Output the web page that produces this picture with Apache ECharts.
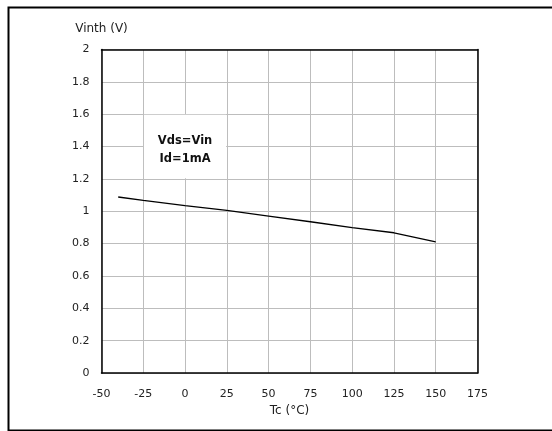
<!DOCTYPE html>
<html>
<head>
<meta charset="utf-8">
<script src="https://cdn.jsdelivr.net/npm/echarts@6/dist/echarts.min.js"></script>
<style>
html,body{margin:0;padding:0;background:#fff;}
#c{width:552px;height:431px;}
</style>
</head>
<body>
<div id="c"></div>
<script>
// Data
var tempC = [-40, -25, 0, 25, 50, 75, 100, 125, 150];
var vinth = [1.088, 1.067, 1.035, 1.005, 0.97, 0.935, 0.899, 0.867, 0.81];
var xTicks = { min: -50, max: 175, step: 25 };
var yTicks = { min: 0, max: 2, step: 0.2 };
var noteLines = ['Vds=Vin', 'Id=1mA'];
var noteBox = { x0: -25, x1: 25, y0: 1.2, y1: 1.6 };
var xName = 'Tc (°C)';
var yName = 'Vinth (V)';

var font = 'DejaVu Sans';
var pts = tempC.map(function (t, i) { return [t, vinth[i]]; });
var blackLine = { show: true, onZero: false, lineStyle: { color: '#000', width: 1.5 } };

var chart = echarts.init(document.getElementById('c'));
chart.setOption({
  animation: false,
  backgroundColor: '#fff',
  grid: { left: 101.5, top: 49.5, width: 376, height: 323.5, show: false },
  xAxis: [{
    type: 'value', min: xTicks.min, max: xTicks.max, interval: xTicks.step,
    name: xName, nameLocation: 'middle', nameGap: 31,
    nameTextStyle: { fontFamily: font, fontSize: 12, color: '#222' },
    axisLine: blackLine,
    axisTick: { show: false },
    axisLabel: { fontFamily: font, fontSize: 11, color: '#222', margin: 16 },
    splitLine: { show: true, lineStyle: { color: '#bdbdbd', width: 1 } },
    z: 1
  }, {
    type: 'value', position: 'top', min: xTicks.min, max: xTicks.max, interval: xTicks.step,
    axisLine: blackLine, axisTick: { show: false }, axisLabel: { show: false }, splitLine: { show: false }, z: 5
  }],
  yAxis: [{
    type: 'value', min: yTicks.min, max: yTicks.max, interval: yTicks.step,
    name: yName, nameLocation: 'end', nameGap: 15,
    nameTextStyle: { fontFamily: font, fontSize: 12, color: '#222' },
    axisLine: blackLine,
    axisTick: { show: false },
    axisLabel: { fontFamily: font, fontSize: 11, color: '#222', margin: 12 },
    splitLine: { show: true, lineStyle: { color: '#bdbdbd', width: 1 } },
    z: 1
  }, {
    type: 'value', position: 'right', min: yTicks.min, max: yTicks.max, interval: yTicks.step,
    axisLine: blackLine, axisTick: { show: false }, axisLabel: { show: false }, splitLine: { show: false }, z: 5
  }],
  series: [{
    type: 'line', data: pts, showSymbol: false, symbol: 'none',
    lineStyle: { color: '#000', width: 1.3 },
    z: 3,
    markArea: {
      silent: true,
      itemStyle: { color: '#fff', opacity: 1 },
      label: {
        show: true, position: 'inside', offset: [0, 3],
        formatter: noteLines.join('\n'),
        fontFamily: font, fontSize: 11.5, fontWeight: 'bold', color: '#111', lineHeight: 18
      },
      data: [[{ coord: [noteBox.x0 + 0.4, noteBox.y1 - 0.004] }, { coord: [noteBox.x1 - 0.4, noteBox.y0 + 0.004] }]]
    }
  }],
  graphic: [{
    type: 'rect', left: 6, top: 5, z: 100, silent: true,
    shape: { x: 0, y: 0, width: 545, height: 423 },
    style: { fill: 'none', stroke: '#000', lineWidth: 2 }
  }]
});
</script>
</body>
</html>
